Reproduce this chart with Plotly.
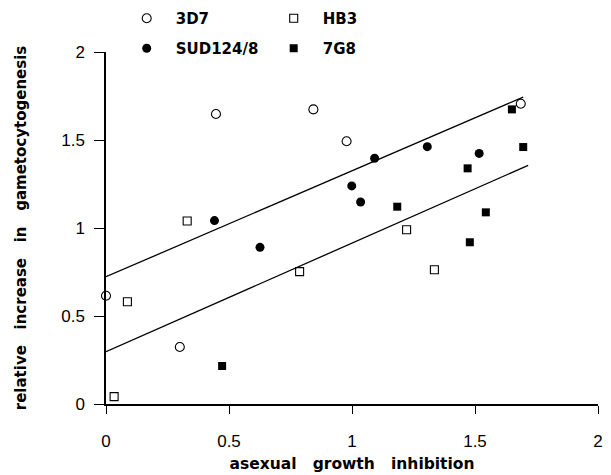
import plotly.graph_objects as go

# Data
x_3d7 = [0.0, 0.30, 0.447, 0.843, 0.978, 1.686]
y_3d7 = [0.615, 0.324, 1.648, 1.674, 1.493, 1.706]

x_hb3 = [0.033, 0.087, 0.330, 0.787, 1.222, 1.335]
y_hb3 = [0.042, 0.581, 1.040, 0.752, 0.990, 0.763]

x_sud = [0.441, 0.626, 0.999, 1.035, 1.092, 1.306, 1.517]
y_sud = [1.042, 0.890, 1.239, 1.148, 1.396, 1.462, 1.424]

x_7g8 = [0.472, 1.184, 1.470, 1.544, 1.479, 1.650, 1.696]
y_7g8 = [0.216, 1.121, 1.339, 1.089, 0.919, 1.674, 1.460]

upper_x = [0.0, 1.696]
upper_y = [0.723, 1.744]
lower_x = [0.0, 1.716]
lower_y = [0.297, 1.356]

tick_vals = [0, 0.5, 1, 1.5, 2]
tick_text = ["0", "0.5", "1", "1.5", "2"]

BOLD = "DejaVu Sans"
REG = "Liberation Sans"
SP = "\u00a0" * 3

fig = go.Figure()

fig.add_trace(go.Scatter(x=upper_x, y=upper_y, mode="lines",
                         line=dict(color="black", width=1.3), showlegend=False, hoverinfo="skip"))
fig.add_trace(go.Scatter(x=lower_x, y=lower_y, mode="lines",
                         line=dict(color="black", width=1.3), showlegend=False, hoverinfo="skip"))

fig.add_trace(go.Scatter(x=x_3d7, y=y_3d7, mode="markers", name="3D7", legend="legend",
                         marker=dict(symbol="circle-open", size=9, color="black", line=dict(width=1.1)),
                         cliponaxis=False))
fig.add_trace(go.Scatter(x=x_hb3, y=y_hb3, mode="markers", name="HB3", legend="legend",
                         marker=dict(symbol="square-open", size=8, color="black", line=dict(width=1.1)),
                         cliponaxis=False))
fig.add_trace(go.Scatter(x=x_sud, y=y_sud, mode="markers", name="SUD124/8", legend="legend2",
                         marker=dict(symbol="circle", size=9, color="black"),
                         cliponaxis=False))
fig.add_trace(go.Scatter(x=x_7g8, y=y_7g8, mode="markers", name="7G8", legend="legend2",
                         marker=dict(symbol="square", size=8, color="black"),
                         cliponaxis=False))

legend_common = dict(orientation="h", xref="container", yref="container",
                     xanchor="left", yanchor="middle", entrywidth=84, entrywidthmode="pixels",
                     itemwidth=48,
                     font=dict(family=BOLD, size=15, color="black", weight="bold"),
                     bgcolor="rgba(0,0,0,0)", itemclick=False, itemdoubleclick=False)

fig.update_layout(
    width=611, height=475,
    margin=dict(l=106, r=13, t=52, b=71, autoexpand=False),
    paper_bgcolor="white", plot_bgcolor="white",
    showlegend=True,
    legend=dict(x=117.7/611, y=1-18.5/475, **legend_common),
    legend2=dict(x=117.7/611, y=1-48.5/475, **legend_common),
    xaxis=dict(range=[0, 2], tickvals=tick_vals, ticktext=tick_text,
               showgrid=False, zeroline=False, showline=True, linecolor="black", linewidth=1.5,
               ticks="outside", ticklen=8, tickwidth=1.2, tickcolor="black",
               tickfont=dict(family=REG, size=17, color="black"), ticklabelstandoff=13,
               title=dict(text=f"asexual{SP}growth{SP}inhibition",
                          font=dict(family=BOLD, size=15.5, color="black", weight="bold"), standoff=8)),
    yaxis=dict(range=[0, 2], tickvals=tick_vals, ticktext=tick_text,
               showgrid=False, zeroline=False, showline=True, linecolor="black", linewidth=1.5,
               ticks="outside", ticklen=10, tickwidth=1.2, tickcolor="black",
               tickfont=dict(family=REG, size=17, color="black"), ticklabelstandoff=6,
               title=dict(text=f"\u00a0\u00a0relative{SP}increase{SP}in{SP}gametocytogenesis",
                          font=dict(family=BOLD, size=15, color="black", weight="bold"), standoff=31)),
)

fig.write_html("out.html")
